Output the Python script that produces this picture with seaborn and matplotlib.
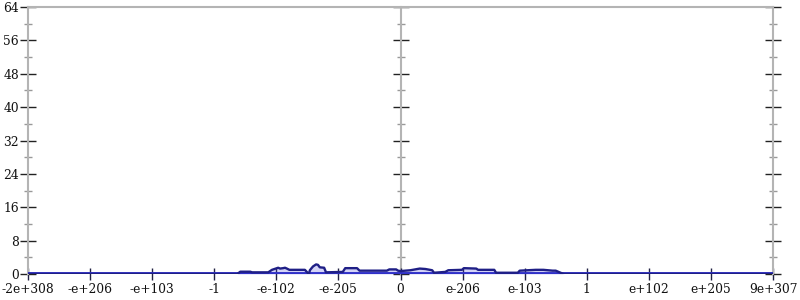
import numpy as np
import pandas as pd
import matplotlib
matplotlib.use("Agg")
import matplotlib.pyplot as plt
import seaborn as sns
from matplotlib.ticker import MultipleLocator

# tick labels along the (transformed) x axis, one per unit position
x_tick_labels = ["-2e+308", "-e+206", "-e+103", "-1", "-e-102", "-e-205", "0",
                 "e-206", "e-103", "1", "e+102", "e+205", "9e+307"]

# density curve: positions on the transformed axis (tick units) and counts
curve_pos = [0.00, 3.37, 3.42, 3.58, 3.61, 3.87, 3.93, 3.99, 4.03, 4.06, 4.11,
             4.14, 4.17, 4.21, 4.24, 4.46, 4.51, 4.53, 4.54, 4.59, 4.64, 4.67,
             4.70, 4.77, 4.80, 5.07, 5.11, 5.30, 5.34, 5.78, 5.82, 5.93, 5.96,
             6.00, 6.08, 6.16, 6.31, 6.40, 6.51, 6.54, 6.72, 6.77, 6.99, 7.02,
             7.22, 7.25, 7.51, 7.54, 7.89, 7.92, 8.18, 8.30, 8.45, 8.50, 8.61,
             8.64, 8.66, 12.00]
curve_val = [0.0, 0.0, 0.55, 0.55, 0.4, 0.4, 1.0, 1.3, 1.5, 1.3, 1.4,
             1.5, 1.3, 1.0, 1.0, 1.0, 0.2, 0.2, 0.9, 1.8, 2.3, 2.2,
             1.6, 1.5, 0.4, 0.5, 1.4, 1.4, 0.8, 0.8, 1.1, 1.1, 0.8,
             0.7, 0.8, 0.9, 1.3, 1.2, 0.9, 0.3, 0.5, 0.9, 1.0, 1.4,
             1.3, 1.0, 1.0, 0.3, 0.3, 0.8, 1.0, 1.0, 0.8, 0.8, 0.1,
             0.0, 0.0, 0.0]

y_ticks = [0, 8, 16, 24, 32, 40, 48, 56, 64]

df = pd.DataFrame({"pos": curve_pos, "count": curve_val})

sns.set_theme(style="white")
plt.rcParams["font.family"] = ["DejaVu Serif"]

fig = plt.figure(figsize=(8, 3), dpi=100)
ax = fig.add_axes([28 / 800, 1 - 274 / 300, (773 - 28) / 800, (274 - 7) / 300])

line_col = "#1f1f86"
fill_col = "#3b3bd6"

ax.fill_between(df["pos"], 0, df["count"], color=fill_col, alpha=0.22, lw=0, zorder=2)
sns.lineplot(data=df, x="pos", y="count", ax=ax, color=line_col, lw=1.7,
             sort=False, estimator=None, zorder=4)
ax.axhline(0, color="#3030c8", lw=2.8, zorder=3)

ax.set_xlim(0, 12)
ax.set_ylim(0, 64)
ax.set_xlabel("")
ax.set_ylabel("")

grey = "#b4b4b4"
for s in ["left", "right", "top"]:
    ax.spines[s].set_visible(True)
    ax.spines[s].set_color(grey)
    ax.spines[s].set_linewidth(1.5)
ax.spines["bottom"].set_visible(False)

ax.set_xticks(range(len(x_tick_labels)))
ax.set_xticklabels(x_tick_labels)
ax.set_yticks(y_ticks)
ax.set_yticklabels([str(v) for v in y_ticks])
ax.yaxis.set_minor_locator(MultipleLocator(4))

ax.tick_params(axis="x", which="major", direction="inout", length=9, width=1,
               color="#222244", labelsize=8.8, pad=2, bottom=True, labelcolor="#111111")
ax.tick_params(axis="y", which="major", direction="inout", length=11, width=1,
               color="#222222", labelsize=8.8, pad=1, left=True, right=True, labelcolor="#111111")
ax.tick_params(axis="y", which="minor", direction="inout", length=6, width=1,
               color="#999999", left=True, right=True)

# central vertical axis at zero
sec = ax.secondary_yaxis(0.5)
for s in sec.spines.values():
    s.set_color(grey)
    s.set_linewidth(1.5)
sec.set_yticks(y_ticks)
sec.set_yticklabels([])
sec.yaxis.set_minor_locator(MultipleLocator(4))
sec.tick_params(axis="y", which="major", direction="inout", length=11, width=1, color="#222222")
sec.tick_params(axis="y", which="minor", direction="inout", length=6, width=1, color="#999999")

fig.savefig("out.png", dpi=100)
